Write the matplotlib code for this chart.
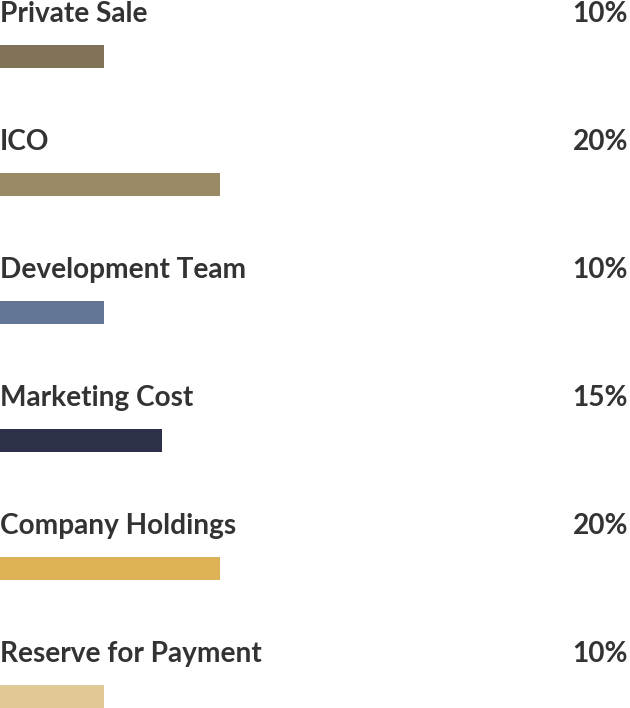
import matplotlib
matplotlib.use("Agg")
import matplotlib.pyplot as plt
import matplotlib.transforms as mtransforms

# data
labels = ["Private Sale", "ICO", "Development Team", "Marketing Cost",
          "Company Holdings", "Reserve for Payment"]
shares = [10, 20, 10, 15, 20, 10]
colors = ["#7f7256", "#9a8a66", "#627594", "#2c3048", "#ddb257", "#e0c995"]

plt.rcParams['font.family'] = ['Lato', 'DejaVu Sans']

fig = plt.figure(figsize=(6.3, 7.08), dpi=100)
ax = fig.add_axes([0, 0, 1, 1])

rows = list(range(len(labels)))
ax.barh(rows, shares, left=0, height=23 / 128, color=colors)

# px scale: 10% -> 104px, 20% -> 220px
ax.set_xlim(1.03, 1.03 + 630 / 11.6)
ax.set_ylim((708 - 56.5) / 128, -56.5 / 128)

trans = mtransforms.blended_transform_factory(ax.transAxes, ax.transData)
for i, (lab, val) in enumerate(zip(labels, shares)):
    ax.text(0.0, i - 34.5 / 128, lab, transform=trans, ha='left', va='baseline',
            fontsize=20.2, fontweight='bold', color='#333333')
    ax.text(0.997, i - 34.5 / 128, f"{val}%", transform=trans, ha='right',
            va='baseline', fontsize=20.2, fontweight='bold', color='#333333')

ax.axis('off')
fig.savefig("out.png", dpi=100)
